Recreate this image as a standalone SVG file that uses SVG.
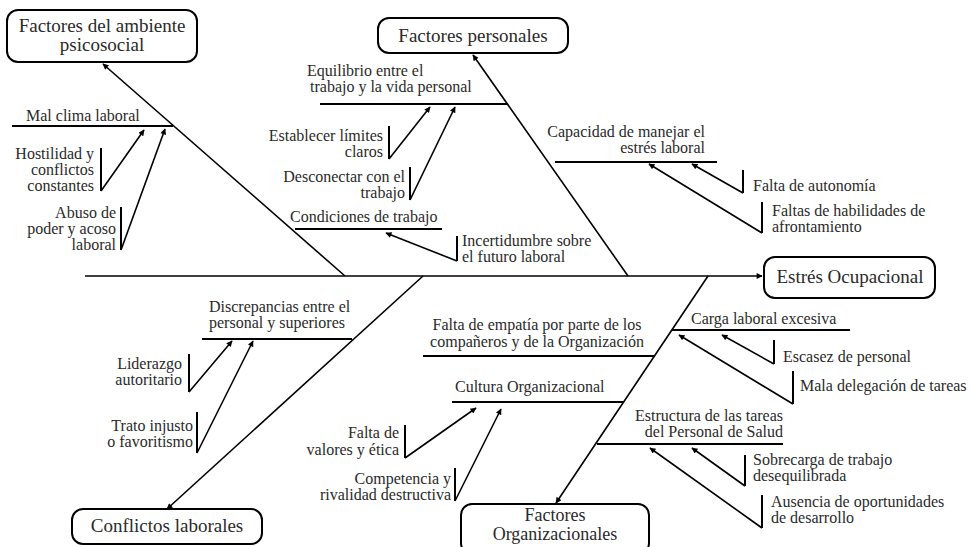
<svg xmlns="http://www.w3.org/2000/svg" width="971" height="547" viewBox="0 0 971 547" font-family="'Liberation Serif', 'DejaVu Serif', serif">
<style>
text{font-family:'Liberation Serif','DejaVu Serif',serif;fill:#2a2a2a}
.box{fill:#fff;stroke:#000;stroke-width:2}
.bt{font-size:19px;text-anchor:middle}
.bs{font-size:18px}
.lb{font-size:16px}
.e{text-anchor:end}
.m{text-anchor:middle}
.ln{stroke:#000;stroke-width:2;fill:none}
.ar{stroke:#000;stroke-width:1.6;fill:none;marker-end:url(#ah)}
.bar{stroke:#000;stroke-width:2}
</style>
<defs>
<marker id="ah" viewBox="0 0 10 10" refX="9" refY="5" markerWidth="8" markerHeight="6" markerUnits="userSpaceOnUse" orient="auto">
<path d="M0,0 L10,5 L0,10 z" fill="#000"/>
</marker>
</defs>
<rect width="971" height="547" fill="#fff"/>

<g id="connectors">
<line class="ar" x1="85" y1="276" x2="762" y2="276"/>
<line class="ar" x1="345" y1="276" x2="103" y2="64"/>
<line class="ar" x1="628" y1="276" x2="473" y2="55"/>
<line class="ar" x1="423" y1="276" x2="167" y2="509"/>
<line class="ar" x1="708" y1="276" x2="556" y2="503"/>
<line class="ln" x1="12" y1="126" x2="173" y2="126"/>
<line class="ln" x1="320" y1="104" x2="508" y2="104"/>
<line class="ln" x1="295" y1="229" x2="442" y2="229"/>
<line class="ln" x1="555" y1="162" x2="717" y2="162"/>
<line class="ln" x1="202" y1="339" x2="352" y2="339"/>
<line class="ln" x1="423" y1="356" x2="655" y2="356"/>
<line class="ln" x1="452" y1="402" x2="623" y2="402"/>
<line class="ln" x1="672" y1="330" x2="850" y2="330"/>
<line class="ln" x1="597" y1="444" x2="783" y2="444"/>
<line class="ar" x1="101" y1="191" x2="144" y2="130"/>
<line class="ar" x1="121" y1="250" x2="165" y2="129"/>
<line class="ar" x1="389" y1="159" x2="430" y2="107"/>
<line class="ar" x1="410" y1="200" x2="455" y2="107"/>
<line class="ar" x1="457" y1="261" x2="386" y2="233"/>
<line class="ar" x1="743" y1="193" x2="692" y2="164"/>
<line class="ar" x1="762" y1="233" x2="649" y2="164"/>
<line class="ar" x1="189" y1="392" x2="232" y2="341"/>
<line class="ar" x1="197" y1="453" x2="253" y2="341"/>
<line class="ar" x1="405" y1="458" x2="476" y2="408"/>
<line class="ar" x1="455" y1="501" x2="501" y2="409"/>
<line class="ar" x1="774" y1="364" x2="722" y2="335"/>
<line class="ar" x1="793" y1="404" x2="679" y2="335"/>
<line class="ar" x1="745" y1="486" x2="692" y2="448"/>
<line class="ar" x1="762" y1="528" x2="650" y2="448"/>
</g>

<g id="estres-ocupacional">
<rect class="box" x="764" y="257" width="171" height="41" rx="11"/>
<text class="bt" x="850" y="283">Estrés Ocupacional</text>
</g>
<g id="factores-ambiente">
<rect class="box" x="7" y="10" width="190" height="52" rx="11"/>
<text class="bt" x="102" y="32">Factores del ambiente</text>
<text class="bt" x="102" y="51">psicosocial</text>
</g>
<g id="factores-personales">
<rect class="box" x="378" y="18" width="190" height="35" rx="11"/>
<text class="bt" x="473" y="42">Factores personales</text>
</g>
<g id="conflictos-laborales">
<rect class="box" x="72" y="509" width="190" height="35" rx="11"/>
<text class="bt" x="167" y="532">Conflictos laborales</text>
</g>
<g id="factores-organizacionales">
<rect class="box" x="461" y="504" width="188" height="50" rx="11"/>
<text class="bt bs" x="555" y="521">Factores</text>
<text class="bt bs" x="555" y="540">Organizacionales</text>
</g>

<g id="mal-clima"><text class="lb" x="26" y="121">Mal clima laboral</text></g>
<g id="hostilidad">
<line class="bar" x1="101" y1="148" x2="101" y2="191"/>
<text class="lb e" x="94" y="159">Hostilidad y</text>
<text class="lb e" x="94" y="175">conflictos</text>
<text class="lb e" x="94" y="191">constantes</text>
</g>
<g id="abuso">
<line class="bar" x1="121" y1="207" x2="121" y2="250"/>
<text class="lb e" x="116" y="218">Abuso de</text>
<text class="lb e" x="116" y="234">poder y acoso</text>
<text class="lb e" x="116" y="250">laboral</text>
</g>

<g id="equilibrio">
<text class="lb" x="307" y="76">Equilibrio entre el</text>
<text class="lb" x="310" y="92">trabajo y la vida personal</text>
</g>
<g id="limites">
<line class="bar" x1="389" y1="126" x2="389" y2="159"/>
<text class="lb e" x="383" y="141">Establecer límites</text>
<text class="lb e" x="383" y="157">claros</text>
</g>
<g id="desconectar">
<line class="bar" x1="410" y1="167" x2="410" y2="200"/>
<text class="lb e" x="405" y="182">Desconectar con el</text>
<text class="lb e" x="405" y="198">trabajo</text>
</g>
<g id="condiciones"><text class="lb" x="290" y="222">Condiciones de trabajo</text></g>
<g id="incertidumbre">
<line class="bar" x1="457" y1="236" x2="457" y2="261"/>
<text class="lb" x="462" y="246">Incertidumbre sobre</text>
<text class="lb" x="462" y="262">el futuro laboral</text>
</g>

<g id="capacidad">
<text class="lb e" x="705" y="137">Capacidad de manejar el</text>
<text class="lb e" x="705" y="153">estrés laboral</text>
</g>
<g id="autonomia">
<line class="bar" x1="743" y1="170" x2="743" y2="193"/>
<text class="lb" x="753" y="191">Falta de autonomía</text>
</g>
<g id="habilidades">
<line class="bar" x1="762" y1="202" x2="762" y2="233"/>
<text class="lb" x="772" y="216">Faltas de habilidades de</text>
<text class="lb" x="772" y="232">afrontamiento</text>
</g>

<g id="discrepancias">
<text class="lb" x="209" y="312">Discrepancias entre el</text>
<text class="lb" x="209" y="328">personal y superiores</text>
</g>
<g id="liderazgo">
<line class="bar" x1="189" y1="354" x2="189" y2="392"/>
<text class="lb e" x="182" y="369">Liderazgo</text>
<text class="lb e" x="182" y="385">autoritario</text>
</g>
<g id="trato">
<line class="bar" x1="197" y1="412" x2="197" y2="453"/>
<text class="lb e" x="193" y="431">Trato injusto</text>
<text class="lb e" x="193" y="447">o favoritismo</text>
</g>

<g id="empatia">
<text class="lb m" x="537" y="330">Falta de empatía por parte de los</text>
<text class="lb m" x="537" y="347">compañeros y de la Organización</text>
</g>
<g id="cultura"><text class="lb" x="455" y="392">Cultura Organizacional</text></g>
<g id="valores">
<line class="bar" x1="405" y1="425" x2="405" y2="458"/>
<text class="lb e" x="399" y="438">Falta de</text>
<text class="lb e" x="399" y="455">valores y ética</text>
</g>
<g id="competencia">
<line class="bar" x1="455" y1="468" x2="455" y2="501"/>
<text class="lb e" x="451" y="484">Competencia y</text>
<text class="lb e" x="451" y="500">rivalidad destructiva</text>
</g>

<g id="carga"><text class="lb" x="691" y="324">Carga laboral excesiva</text></g>
<g id="escasez">
<line class="bar" x1="774" y1="340" x2="774" y2="364"/>
<text class="lb" x="783" y="362">Escasez de personal</text>
</g>
<g id="delegacion">
<line class="bar" x1="793" y1="371" x2="793" y2="404"/>
<text class="lb" x="800" y="391">Mala delegación de tareas</text>
</g>
<g id="estructura">
<text class="lb e" x="783" y="421">Estructura de las tareas</text>
<text class="lb e" x="783" y="437">del Personal de Salud</text>
</g>
<g id="sobrecarga">
<line class="bar" x1="745" y1="455" x2="745" y2="486"/>
<text class="lb" x="753" y="465">Sobrecarga de trabajo</text>
<text class="lb" x="753" y="481">desequilibrada</text>
</g>
<g id="ausencia">
<line class="bar" x1="762" y1="495" x2="762" y2="528"/>
<text class="lb" x="771" y="507">Ausencia de oportunidades</text>
<text class="lb" x="771" y="523">de desarrollo</text>
</g>
</svg>
